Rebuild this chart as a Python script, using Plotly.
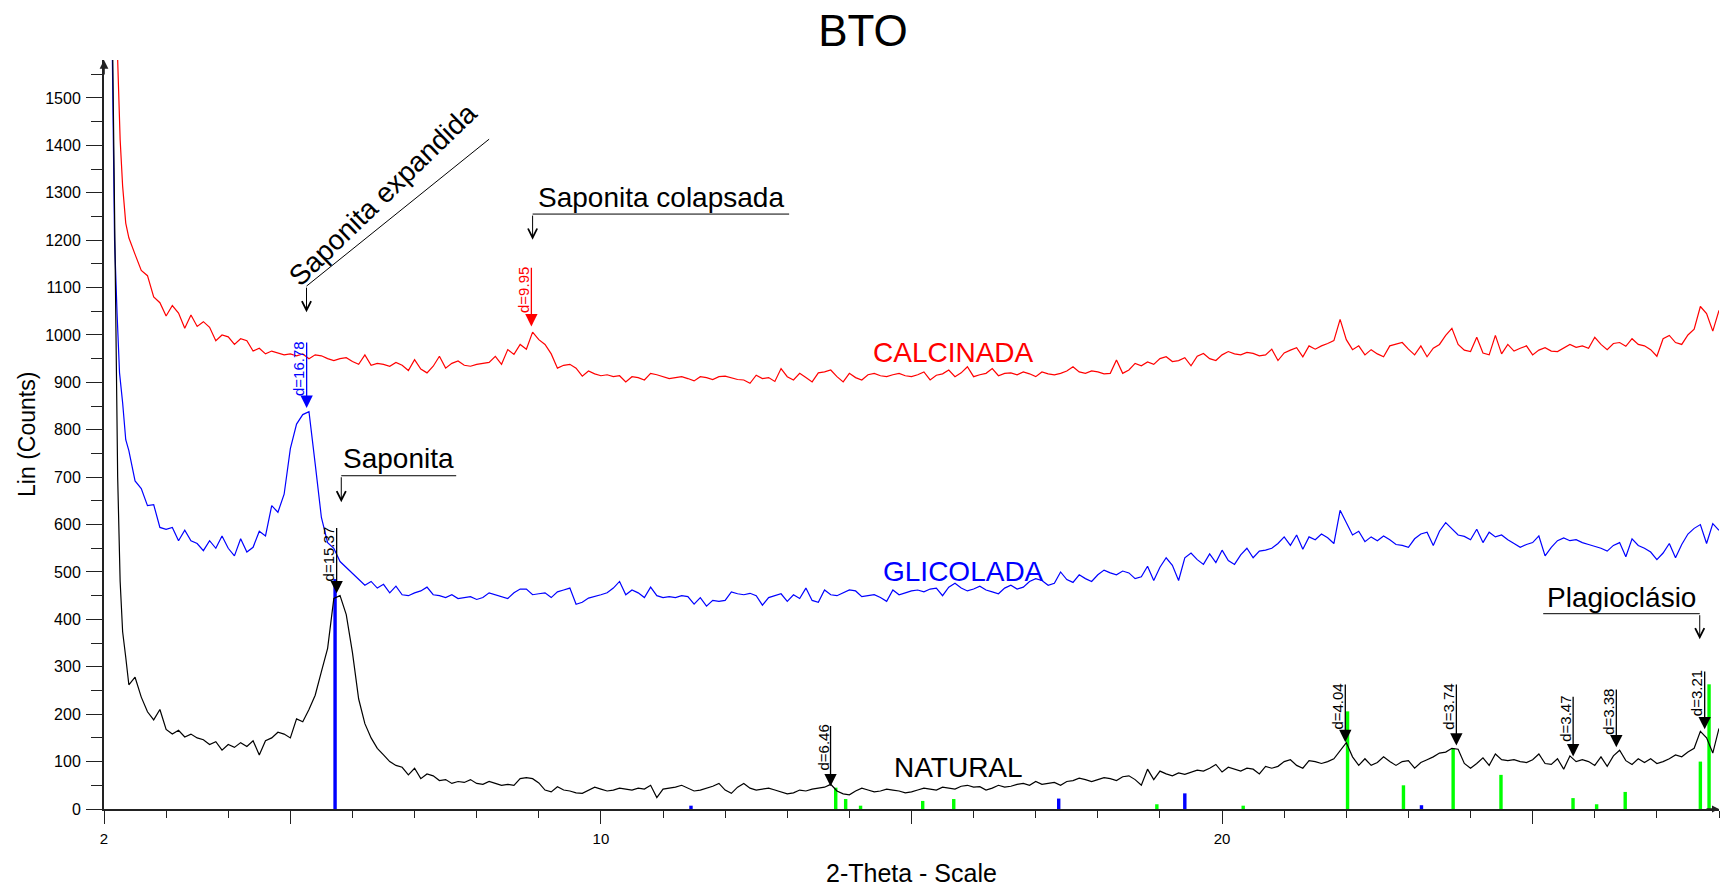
import math
import plotly.graph_objects as go

# ---------------- text ----------------
TITLE = "BTO"
X_TITLE = "2-Theta - Scale"
Y_TITLE = "Lin (Counts)"
X_TICK_VALUES = [2, 5, 10, 15, 20, 25]
X_TICK_TEXT = ["2", "", "10", "", "20", ""]
Y_TICK_VALUES = [0, 100, 200, 300, 400, 500, 600, 700, 800, 900, 1000, 1100, 1200, 1300, 1400, 1500]

# ---------------- scans ----------------
# steep low-angle start of each scan (explicit 2-theta)
NATURAL_HEAD_X = [2.05, 2.10, 2.14, 2.18, 2.22, 2.26, 2.30, 2.35]
NATURAL_HEAD_Y = [2600, 2000, 1580, 1100, 700, 480, 374, 320]
GLICOLADA_HEAD_X = [2.05, 2.10, 2.13, 2.17, 2.21, 2.25, 2.30, 2.35]
GLICOLADA_HEAD_Y = [2500, 1900, 1580, 1200, 1047, 920, 857, 779]
CALCINADA_HEAD_X = [2.10, 2.16, 2.20, 2.22, 2.26, 2.30, 2.35]
CALCINADA_HEAD_Y = [2600, 2100, 1700, 1580, 1412, 1314, 1236]

# rest of each scan: 2-theta 2.4 ... 28.0 every 0.1 degree
SCAN_START = 2.4
SCAN_STEP = 0.1
NATURAL_Y = [
    262, 278, 236, 205, 188, 210,
    168, 158, 166, 152, 158, 150, 146, 136, 142, 124,
    136, 130, 140, 132, 144, 114, 144, 150, 162, 158,
    150, 190, 184, 210, 240, 290, 339, 444, 450, 410,
    330, 232, 180, 150, 128, 114, 100, 92, 88, 72,
    86, 64, 74, 70, 60, 62, 54, 58, 56, 62,
    54, 52, 58, 54, 50, 52, 50, 64, 66, 64,
    55, 40, 36, 47, 40, 38, 34, 33, 40, 46,
    42, 38, 40, 44, 42, 40, 44, 42, 50, 24,
    42, 44, 46, 50, 44, 38, 40, 44, 48, 54,
    40, 33, 46, 54, 44, 40, 42, 44, 40, 36,
    32, 34, 40, 38, 42, 44, 46, 52, 38, 32,
    30, 38, 44, 40, 36, 38, 42, 40, 38, 34,
    36, 40, 44, 42, 40, 46, 44, 42, 48, 50,
    46, 47, 40, 44, 50, 46, 48, 52, 54, 50,
    58, 52, 54, 56, 50, 58, 60, 65, 62, 58,
    62, 66, 64, 60, 68, 70, 62, 50, 84, 62,
    80, 74, 70, 76, 73, 78, 82, 80, 86, 94,
    78, 88, 84, 80, 86, 84, 74, 90, 86, 90,
    100, 104, 92, 86, 102, 100, 96, 100, 106, 122,
    140, 110, 92, 106, 92, 98, 110, 100, 92, 100,
    102, 86, 98, 104, 110, 118, 120, 128, 126, 96,
    86, 96, 108, 92, 116, 104, 102, 104, 100, 98,
    104, 116, 96, 94, 106, 84, 112, 100, 104, 100,
    92, 110, 90, 112, 124, 102, 94, 106, 98, 106,
    96, 100, 106, 114, 110, 120, 128, 164, 150, 118,
    170,
]
GLICOLADA_Y = [
    756, 692, 676, 640, 642, 594,
    590, 594, 566, 588, 566, 560, 545, 566, 550, 576,
    550, 534, 570, 542, 552, 586, 576, 640, 626, 664,
    760, 812, 832, 838, 728, 615, 562, 550, 522, 510,
    498, 486, 472, 480, 466, 474, 456, 470, 452, 450,
    456, 460, 468, 452, 450, 446, 452, 444, 446, 448,
    442, 446, 456, 452, 448, 444, 456, 464, 464, 452,
    454, 456, 446, 458, 462, 466, 432, 436, 445, 448,
    452, 456, 466, 480, 452, 462, 456, 446, 468, 450,
    446, 448, 446, 450, 448, 432, 446, 428, 440, 438,
    440, 458, 454, 452, 455, 450, 430, 446, 450, 454,
    438, 452, 444, 466, 440, 436, 462, 452, 450, 456,
    462, 460, 448, 450, 452, 446, 438, 462, 452, 456,
    460, 462, 458, 464, 466, 450, 468, 476, 466, 460,
    464, 470, 462, 458, 454, 466, 472, 464, 468, 480,
    486, 482, 472, 476, 500, 484, 478, 494, 486, 480,
    494, 504, 498, 494, 502, 498, 486, 490, 512, 482,
    510, 530, 514, 482, 530, 540, 526, 516, 538, 520,
    546, 524, 516, 536, 550, 530, 544, 546, 550, 560,
    574, 556, 578, 548, 574, 568, 580, 572, 560, 630,
    604, 578, 586, 564, 574, 566, 576, 568, 558, 556,
    552, 570, 580, 584, 556, 586, 604, 590, 578, 575,
    568, 590, 562, 584, 574, 578, 568, 560, 552, 558,
    562, 576, 534, 552, 566, 572, 566, 568, 562, 558,
    554, 550, 544, 556, 562, 532, 570, 556, 550, 542,
    526, 540, 560, 530, 558, 580, 592, 600, 560, 602,
    588,
]
CALCINADA_Y = [
    1205, 1170, 1136, 1125, 1080, 1068,
    1040, 1062, 1046, 1014, 1042, 1018, 1028, 1016, 988, 1000,
    996, 980, 992, 988, 966, 972, 960, 966, 962, 958,
    960, 956, 960, 950, 958, 956, 950, 946, 950, 952,
    944, 938, 958, 936, 940, 938, 934, 942, 936, 925,
    948, 928, 920, 934, 955, 930, 940, 945, 936, 934,
    938, 940, 942, 955, 938, 969, 959, 980, 970, 1006,
    990, 980, 960, 930, 936, 938, 930, 913, 924, 918,
    914, 916, 912, 914, 901, 912, 910, 905, 919, 916,
    912, 908, 910, 912, 908, 903, 912, 910, 906, 912,
    913, 910, 906, 905, 898, 915, 908, 910, 902, 929,
    912, 905, 919, 910, 901, 920, 922, 926, 912, 901,
    919, 910, 905, 916, 919, 914, 912, 916, 919, 914,
    912, 916, 922, 905, 915, 918, 926, 912, 920, 933,
    912, 916, 919, 929, 914, 919, 920, 916, 922, 918,
    912, 922, 918, 916, 919, 924, 933, 922, 919, 924,
    922, 918, 919, 947, 919, 926, 940, 935, 943, 938,
    950, 954, 944, 946, 952, 935, 955, 961, 950, 946,
    958, 965, 960, 958, 963, 961, 956, 958, 970, 946,
    962, 968, 973, 954, 977, 970, 977, 982, 988, 1033,
    990, 969, 977, 958, 969, 960, 954, 977, 980, 984,
    970, 958, 977, 954, 972, 980, 999, 1014, 980, 968,
    965, 995, 962, 958, 999, 960, 980, 966, 972, 977,
    958, 968, 973, 966, 965, 972, 980, 974, 977, 972,
    995, 980, 969, 982, 984, 976, 992, 980, 977, 969,
    955, 992, 999, 984, 980, 1000, 1012, 1060, 1045, 1008,
    1052,
]

# ---------------- reference sticks ----------------
SAPONITE_STICK_X = [5.72, 11.45, 17.37, 19.40, 23.21]
SAPONITE_STICK_H = [485, 7, 22, 33, 8]
PLAGIO_STICK_X = [13.78, 13.94, 14.18, 15.18, 15.68, 18.95, 20.34, 22.02, 22.92,
                  23.72, 24.49, 25.65, 26.03, 26.49, 27.70, 27.84]
PLAGIO_STICK_H = [45, 21, 7, 17, 21, 10, 7, 206, 50, 128, 72, 23, 10, 36, 100, 263]

# ---------------- d-spacing markers ----------------
WAVELENGTH = 1.5406
PEAK_D = [16.78, 9.95, 15.37, 6.46, 4.04, 3.74, 3.47, 3.38, 3.21]
PEAK_LABEL = ["d=16.78", "d=9.95", "d=15.37", "d=6.46", "d=4.04", "d=3.74", "d=3.47", "d=3.38", "d=3.21"]
PEAK_SCAN = ["GLICOLADA", "CALCINADA", "NATURAL", "NATURAL", "NATURAL", "NATURAL", "NATURAL", "NATURAL", "NATURAL"]
PEAK_TIP = [846, 1018, 455, 48, 141, 134, 111, 130, 168]
PEAK_TOP = [987, 1145, 596, 178, 266, 266, 240, 255, 293]

COLORS = {"NATURAL": "#000000", "GLICOLADA": "#0000ff", "CALCINADA": "#ff0000"}
FONT = "Liberation Sans, Arial, Helvetica, sans-serif"
BLACK = "#000000"
AXIS = "#222222"

FIG_W, FIG_H = 1722, 887


def two_theta(d):
    return 2 * math.degrees(math.asin(WAVELENGTH / (2 * d)))


def scan_x(n):
    return [round(SCAN_START + SCAN_STEP * i, 2) for i in range(n)]


fig = go.Figure()

scans = [
    ("CALCINADA", CALCINADA_HEAD_X, CALCINADA_HEAD_Y, CALCINADA_Y),
    ("GLICOLADA", GLICOLADA_HEAD_X, GLICOLADA_HEAD_Y, GLICOLADA_Y),
    ("NATURAL", NATURAL_HEAD_X, NATURAL_HEAD_Y, NATURAL_Y),
]
for name, hx, hy, ys in scans:
    fig.add_trace(go.Scatter(
        x=hx + scan_x(len(ys)), y=hy + ys, mode="lines", name=name,
        line=dict(color=COLORS[name], width=1.2), hoverinfo="skip"))

fig.add_trace(go.Bar(x=SAPONITE_STICK_X, y=SAPONITE_STICK_H, width=0.055,
                     marker=dict(color="#0000ff", line=dict(width=0)), name="Saponita"))
fig.add_trace(go.Bar(x=PLAGIO_STICK_X, y=PLAGIO_STICK_H, width=0.055,
                     marker=dict(color="#00ff00", line=dict(width=0)), name="Plagioclásio"))

annotations = []
shapes = []

# d-spacing arrows and labels
for d, lab, scan, tip, top in zip(PEAK_D, PEAK_LABEL, PEAK_SCAN, PEAK_TIP, PEAK_TOP):
    x = two_theta(d)
    c = COLORS[scan]
    annotations.append(dict(x=x, y=tip, ax=x, ay=top, xref="x", yref="y", axref="x", ayref="y",
                            text="", showarrow=True, arrowhead=2, arrowsize=1.9, arrowwidth=1.3,
                            arrowcolor=c, standoff=0))
    annotations.append(dict(x=x, y=top, xref="x", yref="y", text=lab, showarrow=False,
                            textangle=-90, xanchor="center", yanchor="middle",
                            xshift=-8, yshift=-3.9 * len(lab),
                            font=dict(size=15, color=c, family=FONT)))

# series names
for name, x, y in [("CALCINADA", 15.68, 964), ("GLICOLADA", 15.84, 500), ("NATURAL", 15.76, 88)]:
    annotations.append(dict(x=x, y=y, xref="x", yref="y", text=name, showarrow=False,
                            xanchor="center", yanchor="middle",
                            font=dict(size=28, color=COLORS[name], family=FONT)))


def leader(x0, y0, x1, y1):
    shapes.append(dict(type="line", xref="x", yref="y", x0=x0, y0=y0, x1=x1, y1=y1,
                       line=dict(color=BLACK, width=1)))


def open_arrow(xt, yt, xs, ys):
    annotations.append(dict(x=xt, y=yt, ax=xs, ay=ys, xref="x", yref="y", axref="x", ayref="y",
                            text="", showarrow=True, arrowhead=5, arrowsize=1.8, arrowwidth=1,
                            arrowcolor=BLACK, standoff=0))


# Saponita expandida
annotations.append(dict(x=6.49, y=1296, xref="x", yref="y", text="Saponita expandida",
                        showarrow=False, textangle=-44, xanchor="center", yanchor="middle",
                        font=dict(size=28, color=BLACK, family=FONT)))
leader(8.20, 1413, 5.26, 1103)
open_arrow(5.26, 1048, 5.26, 1103)

# Saponita colapsada
annotations.append(dict(x=10.97, y=1289, xref="x", yref="y", text="Saponita colapsada",
                        showarrow=False, xanchor="center", yanchor="middle",
                        font=dict(size=28, color=BLACK, family=FONT)))
leader(8.90, 1255, 13.03, 1255)
open_arrow(8.90, 1201, 8.90, 1255)

# Saponita
annotations.append(dict(x=6.74, y=740, xref="x", yref="y", text="Saponita",
                        showarrow=False, xanchor="center", yanchor="middle",
                        font=dict(size=28, color=BLACK, family=FONT)))
leader(5.82, 703, 7.67, 703)
open_arrow(5.82, 647, 5.82, 703)

# Plagioclasio
annotations.append(dict(x=26.43, y=447, xref="x", yref="y", text="Plagioclásio",
                        showarrow=False, xanchor="center", yanchor="middle",
                        font=dict(size=28, color=BLACK, family=FONT)))
leader(25.17, 412, 27.69, 412)
open_arrow(27.69, 358, 27.69, 412)

# axis titles
annotations.append(dict(x=0.5, y=-0.0854, xref="paper", yref="paper", text=X_TITLE,
                        showarrow=False, xanchor="center", yanchor="middle",
                        font=dict(size=25, color=BLACK, family=FONT)))
annotations.append(dict(x=-0.0477, y=0.5007, xref="paper", yref="paper", text=Y_TITLE,
                        showarrow=False, textangle=-90, xanchor="center", yanchor="middle",
                        font=dict(size=23, color=BLACK, family=FONT)))

# axis end arrows
annotations.append(dict(x=2, y=1580, xref="x", yref="y", ax=0, ay=16, text="", showarrow=True,
                        arrowhead=2, arrowsize=1.1, arrowwidth=1.6, arrowcolor=AXIS, standoff=0))
annotations.append(dict(x=28, y=0, xref="x", yref="y", ax=-14, ay=0, text="", showarrow=True,
                        arrowhead=2, arrowsize=1.0, arrowwidth=1.4, arrowcolor=AXIS, standoff=0))

fig.update_layout(
    width=FIG_W, height=FIG_H,
    margin=dict(l=104, r=3, t=60, b=78, pad=0),
    paper_bgcolor="white", plot_bgcolor="white",
    showlegend=False, barmode="overlay",
    font=dict(family=FONT, color=BLACK),
    title=dict(text=TITLE, x=863 / FIG_W, xanchor="center", xref="container",
               y=1 - 31 / FIG_H, yanchor="middle", yref="container",
               font=dict(size=44, color=BLACK, family=FONT)),
    xaxis=dict(range=[2, 28], showline=True, linecolor=AXIS, linewidth=1.5,
               ticks="outside", tickvals=X_TICK_VALUES, ticktext=X_TICK_TEXT,
               ticklen=13, tickwidth=1.2, tickcolor=AXIS,
               minor=dict(tick0=2, dtick=1, ticks="outside", ticklen=7, tickwidth=1.2,
                          tickcolor=AXIS, showgrid=False),
               showgrid=False, zeroline=False, tickfont=dict(size=15, color=BLACK),
               ticklabelstandoff=2),
    yaxis=dict(range=[0, 1580], showline=True, linecolor=AXIS, linewidth=2,
               ticks="outside", tickvals=Y_TICK_VALUES, ticklen=16, tickwidth=1.2,
               tickcolor=AXIS,
               minor=dict(tick0=0, dtick=50, ticks="outside", ticklen=11, tickwidth=1.2,
                          tickcolor=AXIS, showgrid=False),
               showgrid=False, zeroline=False, tickfont=dict(size=16, color=BLACK),
               ticklabelstandoff=2),
    annotations=annotations, shapes=shapes,
)

# the page body keeps no margin, so the 1722x887 figure fills the window exactly
fig.write_html("out.html", config={"displayModeBar": False},
               post_script="document.body.style.margin='0px';")
